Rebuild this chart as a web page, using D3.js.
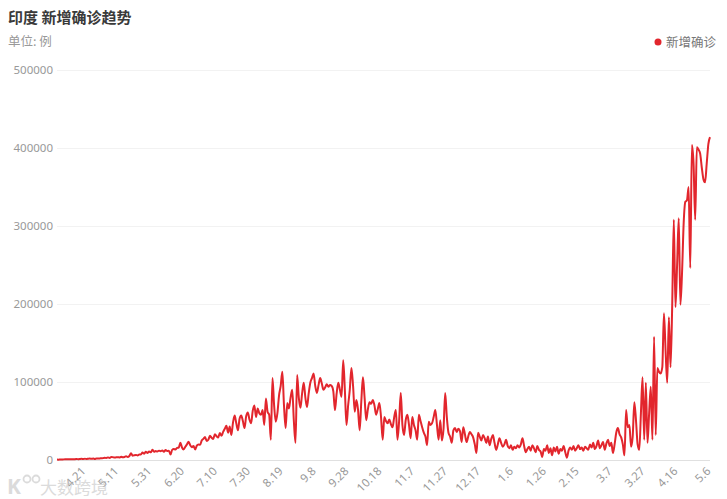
<!DOCTYPE html>
<html>
<head>
<meta charset="utf-8">
<script src="https://cdn.jsdelivr.net/npm/d3@7/dist/d3.min.js"></script>
<style>
  html, body { margin: 0; padding: 0; background: #fff; }
  svg { display: block; font-family: "Noto Sans CJK SC", "Noto Sans", sans-serif; }
</style>
</head>
<body>
<svg id="chart" width="727" height="499"></svg>
<script>
const title = "印度 新增确诊趋势";
const unitLabel = "单位: 例";
const seriesName = "新增确诊";
const startDate = "2020-04-04";
const yTicks = [0, 100000, 200000, 300000, 400000, 500000];
const xTickLabels = ["4.21","5.11","5.31","6.20","7.10","7.30","8.19","9.8","9.28","10.18","11.7","11.27","12.17","1.6","1.26","2.15","3.7","3.27","4.16","5.6"];
const xTickDates = ["2020-04-21","2020-05-11","2020-05-31","2020-06-20","2020-07-10","2020-07-30","2020-08-19","2020-09-08","2020-09-28","2020-10-18","2020-11-07","2020-11-27","2020-12-17","2021-01-06","2021-01-26","2021-02-15","2021-03-07","2021-03-27","2021-04-16","2021-05-06"];
const dailyCases = [
600,480,700,550,800,900,850,1000,920,1050,1100,
1100,1300,1000,1400,1500,1300,1600,1300,1700,1800,1500,1900,1400,
1900,1800,2000,2300,2400,2900,2500,3300,2600,3900,3600,3100,3400,3600,3300,4200,3500,
3900,4800,4000,5200,8500,5600,6200,6500,5900,7100,
7000,9500,8000,10500,9000,11000,9800,13000,10500,11500,10800,12000,11200,12300,10500,12800,11500,12000,7000,13000,14000,13500,15500,16000,
22000,16000,13500,17000,20000,23500,19000,16500,18000,13500,18500,20000,19500,25000,
27000,29500,24500,26000,31000,28500,27000,33000,30500,29000,34500,31000,
36000,40000,44000,35000,43000,32000,48000,57000,47000,38000,53000,57000,50000,41000,56000,61000,52000,47000,63000,70000,
55000,66000,60000,58000,64000,45000,79000,62000,58000,26000,105000,70000,49000,60000,83000,95000,113000,70000,41000,73000,
66000,80000,90000,50000,22000,109000,80000,67000,85000,99000,80000,68000,85000,99000,105000,111000,95000,86000,96000,105000,
98000,90000,93000,97000,94000,96000,95000,88000,64000,85000,99000,90000,81000,128000,90000,45000,70000,90000,118000,95000,
62000,77000,65000,38000,75000,106000,80000,51000,65000,74000,72000,77000,70000,58000,65000,73000,55000,26000,55000,50000,
47000,52000,46000,42000,55000,64000,26000,50000,86000,45000,32000,51000,58000,45000,28000,55000,45000,38000,26000,58000,
50000,42000,35000,30000,19000,49000,45000,47000,55000,64000,45000,26000,51000,25000,40000,86000,55000,35000,30000,22000,
38000,41000,36000,40000,37000,23000,42000,33000,23000,30000,36000,33000,29000,20000,9000,35000,30000,25000,32000,28000,
22000,30000,19000,27000,32000,22000,13000,20000,28000,22000,17000,20000,26000,18000,15000,19000,13000,17000,15000,19000,
16000,20000,28000,18000,10000,14000,17000,12000,19000,15000,10000,18000,13000,11000,4000,14000,12000,19000,9000,15000,
6000,16000,11000,17000,8000,14000,12000,18000,10000,3000,12000,16000,13000,18000,12000,15000,19000,14000,16000,12000,
17000,15000,13000,20000,16000,22000,14000,18000,25000,15000,19000,23000,13000,21000,26000,18000,22000,9000,20000,35000,
41000,33000,29000,20000,6000,64000,42000,45000,17000,30000,74000,51000,20000,13000,60000,106000,26000,99000,22000,60000,
94000,26000,158000,32000,118000,113000,111000,119000,188000,140000,99000,183000,119000,196000,308000,196000,250000,310000,199000,240000,
304000,331000,333000,350000,246000,404000,380000,308000,401000,398000,393000,375000,360000,356000,380000,405000,414000
];

const svg = d3.select("#chart");
const plotLeft = 57, plotRight = 710, plotTop = 70, plotBottom = 460;

const parse = d3.timeParse("%Y-%m-%d");
const t0 = parse(startDate);
const dayMs = 86400000;
const data = dailyCases.map((v, i) => ({ i, v }));
const n = dailyCases.length;

const x = d3.scaleLinear().domain([0, n - 1]).range([plotLeft, plotRight]);
const y = d3.scaleLinear().domain([0, 500000]).range([plotBottom, plotTop]);
const dateIndex = s => Math.round((parse(s) - t0) / dayMs);

// grid
svg.append("g").selectAll("line").data(yTicks).join("line")
  .attr("x1", plotLeft).attr("x2", plotRight)
  .attr("y1", d => y(d) + 0.5).attr("y2", d => y(d) + 0.5)
  .attr("stroke", d => d === 0 ? "#e0e0e0" : "#f2f2f2").attr("stroke-width", 1);

// y axis labels
const yAxis = d3.axisLeft(y).tickValues(yTicks).tickSize(0).tickPadding(0).tickFormat(d3.format("d"));
const gy = svg.append("g").attr("transform", `translate(${plotLeft - 4},0)`).call(yAxis);
gy.select(".domain").remove();
gy.selectAll("text").attr("fill", "#999").attr("font-size", 11.5)
  .attr("font-family", "\"Noto Sans\", \"Noto Sans CJK SC\", sans-serif");

// x axis labels
const xAxis = d3.axisBottom(x).tickValues(xTickDates.map(dateIndex)).tickSize(0)
  .tickFormat((d, k) => xTickLabels[k]);
const gx = svg.append("g").attr("transform", `translate(-2,${plotBottom + 9})`).call(xAxis);
gx.select(".domain").remove();
gx.selectAll("text")
  .attr("fill", "#999").attr("font-size", 11.5)
  .attr("font-family", "\"Noto Sans\", \"Noto Sans CJK SC\", sans-serif")
  .attr("text-anchor", "end").attr("x", 0).attr("y", 0).attr("dy", "0.35em")
  .attr("transform", "rotate(-45)");

// line
const line = d3.line().x(d => x(d.i)).y(d => y(d.v)).curve(d3.curveMonotoneX);
svg.append("path").datum(data).attr("d", line)
  .attr("fill", "none").attr("stroke", "#e2262d").attr("stroke-width", 2)
  .attr("stroke-linejoin", "round");

// title
svg.append("text").attr("x", 8).attr("y", 23).text(title)
  .attr("font-size", 15).attr("font-weight", "bold").attr("fill", "#3a3a3a");
svg.append("text").attr("x", 8).attr("y", 46).text(unitLabel)
  .attr("font-size", 12.5).attr("fill", "#999");

// legend
svg.append("circle").attr("cx", 658).attr("cy", 42).attr("r", 3.5).attr("fill", "#e2262d");
svg.append("text").attr("x", 666).attr("y", 46.5).text(seriesName)
  .attr("font-size", 12.5).attr("fill", "#777");

// watermark
const wm = svg.append("g").attr("opacity", 0.6);
wm.append("text").attr("x", 7).attr("y", 494).text("K")
  .attr("font-size", 21).attr("fill", "#c4c4c4").attr("font-weight", "bold").attr("font-family", "\"Noto Sans\", sans-serif");
wm.append("circle").attr("cx", 27).attr("cy", 479).attr("r", 3.5).attr("fill", "none").attr("stroke", "#c4c4c4").attr("stroke-width", 1.8);
wm.append("circle").attr("cx", 36).attr("cy", 479).attr("r", 3.5).attr("fill", "none").attr("stroke", "#c4c4c4").attr("stroke-width", 1.8);
wm.append("text").attr("x", 40).attr("y", 494).text("大数跨境")
  .attr("font-size", 17).attr("fill", "#c4c4c4");
</script>
</body>
</html>
